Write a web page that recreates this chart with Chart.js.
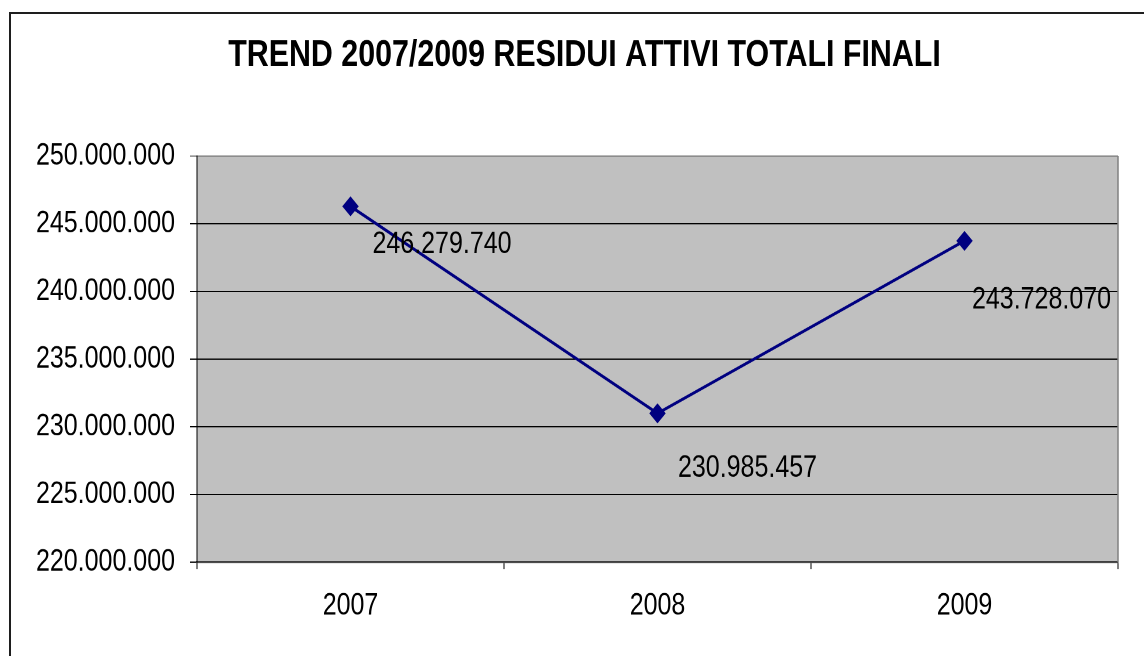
<!DOCTYPE html>
<html>
<head>
<meta charset="utf-8">
<script src="https://cdn.jsdelivr.net/npm/chart.js@4.4.1/dist/chart.umd.min.js"></script>
<style>
  html, body { margin: 0; padding: 0; background: #fff; overflow: hidden; }
  #frame {
    position: absolute; left: 9px; top: 12px;
    width: 1200px; height: 700px;
    border: 2px solid #1e1e1e;
  }
  #wrap {
    position: absolute; left: 0; top: 0;
    width: 1144px; height: 538px;
    transform: scaleY(1.2193); transform-origin: 0 0;
  }
</style>
</head>
<body>
<div id="frame"></div>
<div id="wrap"><canvas id="trend"></canvas></div>
<script>
'use strict';

let chartTitle = 'TREND 2007/2009 RESIDUI ATTIVI TOTALI FINALI';
let years = ['2007', '2008', '2009'];
let residui = [246279740, 230985457, 243728070];
let yTicks = [220000000, 225000000, 230000000, 235000000, 240000000, 245000000, 250000000];

// the canvas gets stretched vertically by the css transform
let stretch = 656 / 538;

function dots(n) {
  return String(Math.round(n)).replace(/\B(?=(\d{3})+(?!\d))/g, '.');
}

let fontFam = '"Liberation Sans", Arial, sans-serif';

// where each value label sits, relative to its point
let labelShift = [[22, 38], [20.5, 55], [7.5, 59]];

let plotBox = {
  id: 'plotBox',
  beforeDraw(chart) {
    let a = chart.chartArea;
    let ctx = chart.ctx;
    ctx.save();
    ctx.fillStyle = '#c0c0c0';
    ctx.fillRect(a.left, a.top, a.right - a.left, a.bottom - a.top);

    // heading, a bit right of the page centre
    ctx.font = 'bold 30.4px ' + fontFam;
    ctx.fillStyle = '#000';
    ctx.textAlign = 'center';
    ctx.textBaseline = 'middle';
    ctx.fillText(chartTitle, 584.5, 55.5 / stretch);
    ctx.restore();
  },
  beforeDatasetsDraw(chart) {
    let a = chart.chartArea;
    let ctx = chart.ctx;
    ctx.save();
    ctx.strokeStyle = '#808080';
    ctx.lineWidth = 1.5;
    ctx.beginPath();
    ctx.moveTo(a.right, a.top);
    ctx.lineTo(a.right, a.bottom);
    ctx.stroke();
    ctx.restore();
  }
};

let valueLabels = {
  id: 'valueLabels',
  afterDatasetsDraw(chart) {
    let ctx = chart.ctx;
    let pts = chart.getDatasetMeta(0).data;
    ctx.save();
    ctx.font = '25px ' + fontFam;
    ctx.fillStyle = '#000';
    ctx.textAlign = 'left';
    ctx.textBaseline = 'middle';
    pts.forEach(function (p, i) {
      let s = labelShift[i];
      ctx.fillText(dots(residui[i]), p.x + s[0], p.y + s[1] / stretch);
    });
    ctx.restore();
  }
};

new Chart(document.getElementById('trend'), {
  type: 'line',
  data: {
    labels: years,
    datasets: [{
      data: residui,
      borderColor: '#000080',
      borderWidth: 2.5,
      backgroundColor: '#000080',
      pointStyle: 'rectRot',
      pointRadius: 7.5,
      pointBorderWidth: 1,
      pointBorderColor: '#000080',
      pointBackgroundColor: '#000080',
      tension: 0
    }]
  },
  options: {
    responsive: true,
    maintainAspectRatio: false,
    animation: false,
    devicePixelRatio: 2,
    layout: { padding: { left: 0, right: 26, top: 156 / stretch, bottom: 0 } },
    plugins: {
      legend: { display: false },
      tooltip: { enabled: false },
      title: { display: false }
    },
    scales: {
      x: {
        offset: true,
        grid: {
          offset: true,
          drawOnChartArea: false,
          drawTicks: true,
          tickLength: 5.7,
          color: '#000'
        },
        border: { color: '#404040', width: 1.7 },
        ticks: {
          color: '#000',
          font: { family: fontFam, size: 25 },
          padding: 15.5
        },
        afterFit(scale) { scale.height = 538 - 562 / stretch; }
      },
      y: {
        min: 220000000,
        max: 250000000,
        afterBuildTicks(scale) {
          scale.ticks = yTicks.map(function (v) { return { value: v }; });
        },
        grid: {
          color(c) { return c.tick && c.tick.value === 250000000 ? '#808080' : '#000'; },
          lineWidth: 1,
          tickLength: 7,
          drawTicks: true
        },
        border: { color: '#000', width: 1 },
        ticks: {
          color: '#000',
          font: { family: fontFam, size: 25 },
          padding: 15,
          callback(v) { return dots(v); }
        },
        afterFit(scale) { scale.width = 197; }
      }
    }
  },
  plugins: [plotBox, valueLabels]
});
</script>
</body>
</html>
